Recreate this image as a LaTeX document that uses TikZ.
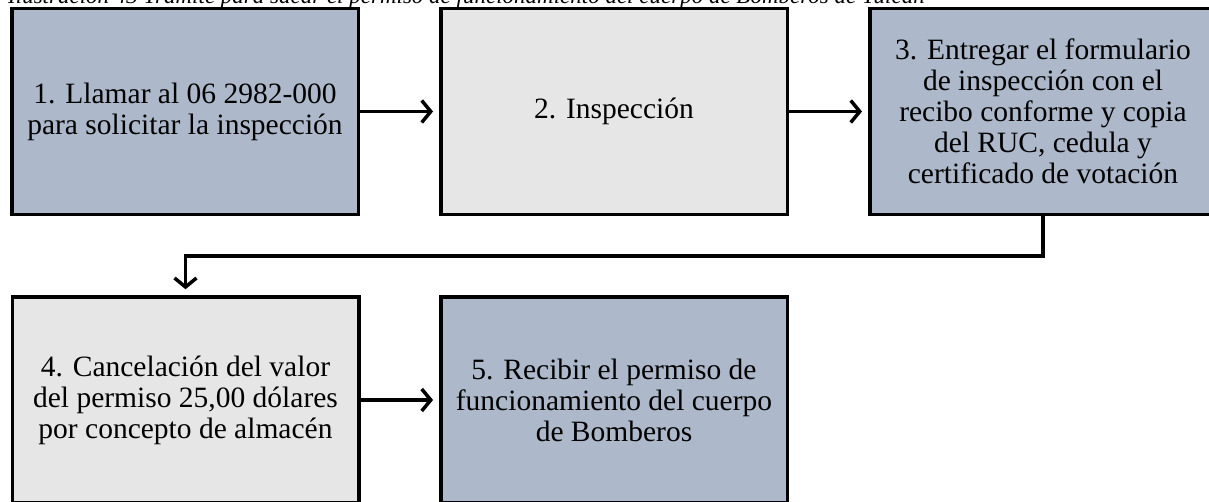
\documentclass[tikz,border=0pt]{standalone}
\usepackage{fontspec}
\setmainfont{Liberation Serif}
\usetikzlibrary{arrows.meta}
\definecolor{bluegray}{HTML}{ADB9CA}
\definecolor{lightgray}{HTML}{E6E6E6}
\tikzset{
  stepbox/.style={draw=black, line width=3.5pt, minimum width=346.5pt, minimum height=206pt,
    align=center, inner sep=0pt, font=\fontsize{29.5}{31}\selectfont},
  bluebox/.style={stepbox, fill=bluegray},
  graybox/.style={stepbox, fill=lightgray},
  flow/.style={line width=3.5pt, -{Straight Barb[length=9pt,width=22pt,line width=3.5pt]}, shorten >=6pt},
}
\begin{document}
\begin{tikzpicture}[x=1pt,y=-1pt]
\useasboundingbox (0,0) rectangle (1209,502);
\clip (0,0) rectangle (1209,502);
\node[anchor=base west, inner sep=0pt, font=\fontsize{23}{26}\selectfont\itshape] (title) at (8,4)
  {Ilustración 43 Trámite para sacar el permiso de funcionamiento del cuerpo de Bomberos de Tulcán};
\node[bluebox] (s1) at (185,111.5) {1. Llamar al 06 2982-000\\para solicitar la inspección};
\node[graybox] (s2) at (614,111.5) {2. Inspección};
\node[bluebox] (s3) at (1043,111.5) {3. Entregar el formulario\\de inspección con el\\recibo conforme y copia\\del RUC, cedula y\\certificado de votación};
\node[graybox] (s4) at (185.5,400) {4. Cancelación del valor\\del permiso 25,00 dólares\\por concepto de almacén};
\node[bluebox] (s5) at (614,400) {5. Recibir el permiso de\\funcionamiento del cuerpo\\de Bomberos};
\draw[flow] (s1.east) -- (s2.west);
\draw[flow] (s2.east) -- (s3.west);
\draw[flow] (s4.east) -- (s5.west);
\draw[flow] (s3.south) -- ++(0,40) -| (s4.north);
\end{tikzpicture}
\end{document}
